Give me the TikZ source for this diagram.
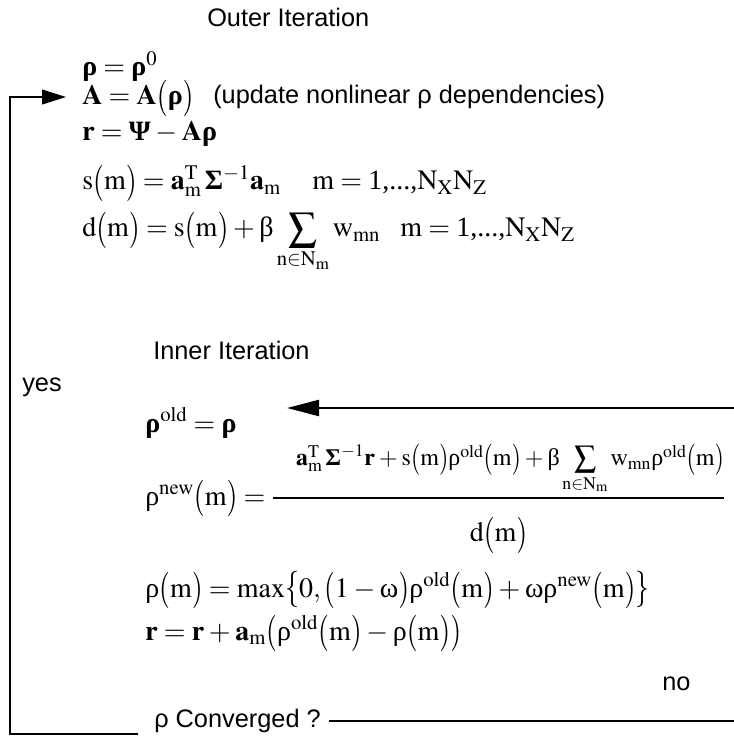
\documentclass[tikz,border=0pt]{standalone}
\usepackage{amsmath}
\usepackage{mathptmx}
\usepackage[no-math]{fontspec}
\setmainfont{Liberation Serif}
\newfontfamily\sansf{Liberation Sans}
\usetikzlibrary{arrows.meta}
\thickmuskip=4mu plus 2mu
\medmuskip=3mu plus 2mu
\newcommand{\grr}{\text{\rmfamily\mdseries\upshape ρ}}
\newcommand{\bgr}{\text{\rmfamily\bfseries\upshape ρ}}
\newcommand{\bSig}{\text{\rmfamily\bfseries\upshape Σ}}
\newcommand{\bPsi}{\text{\rmfamily\bfseries\upshape Ψ}}
\newcommand{\gbeta}{\text{\rmfamily\mdseries\upshape β}}
\newcommand{\gom}{\text{\rmfamily\mdseries\upshape ω}}
\newcommand{\rmm}{\mathrm{m}}
\newcommand{\bsum}[1]{\mathop{\vcenter{\hbox{\scalebox{#1}{$\textstyle\sum$}}}}\limits}
\newcommand{\lp}{\mathopen{\vcenter{\hbox{\scalebox{1}[1.3]{$($}}}}}
\newcommand{\rp}{\mathclose{\vcenter{\hbox{\scalebox{1}[1.3]{$)$}}}}}
\newcommand{\lbr}{\mathopen{\vcenter{\hbox{\scalebox{1}[1.3]{$\{$}}}}}
\newcommand{\rbr}{\mathclose{\vcenter{\hbox{\scalebox{1}[1.3]{$\}$}}}}}
\newcommand{\mrange}{\rmm=\text{1,...,}\mathrm{N}_{\mathrm{X}}\mathrm{N}_{\mathrm{Z}}}
\newcommand{\amT}{\mathbf{a}_{\rmm}^{\mathrm{T}}\mkern2mu}
\tikzset{
  lbl/.style={font=\sansf\fontsize{19}{23}\selectfont, inner sep=0pt, anchor=base west},
  eqn/.style={font=\rmfamily\fontsize{21}{25}\selectfont, inner sep=0pt, anchor=base west},
  conn/.style={line width=1.6pt},
  arr/.style={conn, -{Triangle[length=18pt,width=11pt]}},
  bigarr/.style={conn, -{Triangle[length=24pt,width=12pt]}},
}
\begin{document}
\begin{tikzpicture}[x=0.75pt,y=-0.75pt]
\useasboundingbox (0,0) rectangle (734,745);
% labels
\node[lbl] (outer) at (207,27) {Outer Iteration};
\node[eqn] (rho0) at (82,76) {$\bgr=\bgr^{0}$};
\node[eqn] (Aeq) at (82,105) {$\mathbf{A}=\mathbf{A}\lp\bgr\rp$};
\node[lbl] (upd) at (213,104) {(update nonlinear ρ dependencies)};
\node[eqn] (req) at (82,141) {$\mathbf{r}=\bPsi-\mathbf{A}\bgr$};
\node[eqn] (seq) at (82,190) {$\mathrm{s}\lp\rmm\rp=\amT\bSig^{-1}\mathbf{a}_{\rmm}$};
\node[eqn] (srange) at (312,190) {$\mrange$};
\node[eqn] (deq) at (82,237) {$\mathrm{d}\lp\rmm\rp=\mathrm{s}\lp\rmm\rp+\gbeta\bsum{1.45}_{\mathrm{n}\in\mathrm{N}_{\rmm}}\mathrm{w}_{\rmm\mathrm{n}}$};
\node[eqn] (drange) at (400,237) {$\mrange$};
\node[lbl] (inner) at (153,359) {Inner Iteration};
\node[lbl] (yes) at (22,391) {yes};
\node[eqn] (old) at (145,432) {$\bgr^{\mathrm{old}}=\bgr$};
\node[eqn] (new) at (145,505) {$\grr^{\mathrm{new}}\lp\rmm\rp=\dfrac{\makebox[338pt][r]{\fontsize{18}{22}\selectfont$\amT\bSig^{-1}\mathbf{r}+\mathrm{s}\lp\rmm\rp\grr^{\mathrm{old}}\lp\rmm\rp+\gbeta\bsum{1.3}_{\mathrm{n}\in\mathrm{N}_{\rmm}}\mathrm{w}_{\rmm\mathrm{n}}\grr^{\mathrm{old}}\lp\rmm\rp\rule[-13pt]{0pt}{13pt}$}}{\rule{0pt}{30pt}\mathrm{d}\lp\rmm\rp}$};
\node[eqn] (max) at (145,597) {$\grr\lp\rmm\rp=\max\lbr0,\lp1-\gom\rp\grr^{\mathrm{old}}\lp\rmm\rp+\gom\grr^{\mathrm{new}}\lp\rmm\rp\rbr$};
\node[eqn] (rup) at (145,640) {$\mathbf{r}=\mathbf{r}+\mathbf{a}_{\rmm}\lp\grr^{\mathrm{old}}\lp\rmm\rp-\grr\lp\rmm\rp\rp$};
\node[lbl] (no) at (662,690) {no};
\node[lbl, anchor=west, inner sep=6pt] (conv) at (146,721) {ρ Converged ?};
% connector coordinates
\coordinate (atip) at (66,97);
\coordinate (loopc) at (10,734);
\coordinate (loopend) at (138,734);
\coordinate (rtop) at (734,408);
\coordinate (itip) at (287,408);
\coordinate (rbot) at (734,721);
% connectors
\draw[arr] (loopend) -- (loopc) |- (atip);
\draw[bigarr] (rtop) -- (itip);
\draw[conn] (conv.east) -- (rbot);
\end{tikzpicture}
\end{document}
